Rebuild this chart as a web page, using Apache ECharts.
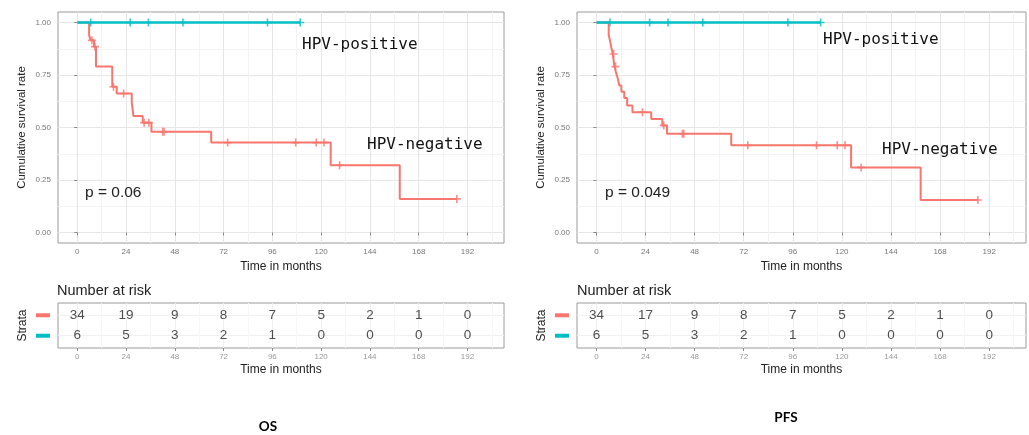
<!DOCTYPE html>
<html>
<head>
<meta charset="utf-8">
<script src="https://cdn.jsdelivr.net/npm/echarts@6/dist/echarts.min.js"></script>
<style>
  html, body { margin: 0; padding: 0; background: #fff; }
  #main { width: 1029px; height: 435px; }
</style>
</head>
<body>
<div id="main"></div>
<script>
// tick positions
const monthTicks = [0, 24, 48, 72, 96, 120, 144, 168, 192];
const monthMinor = [12, 36, 60, 84, 108, 132, 156, 180, 204];
const survTicks = [0, 0.25, 0.5, 0.75, 1];
const survMinor = [0.125, 0.375, 0.625, 0.875];

// OS curves (months, survival after step)
const osNegTime = [0, 5.8, 6.6, 8.2, 9.2, 17.2, 19.4, 26.8, 27.6, 32.2, 36.5, 65.9, 124.7, 158.7, 186.8];
const osNegSurv = [1, 0.94, 0.915, 0.885, 0.79, 0.694, 0.662, 0.62, 0.555, 0.523, 0.48, 0.428, 0.32, 0.16, 0.16];
const osNegCensor = [7.2, 8.7, 17.8, 22.8, 32.9, 35.2, 42, 42.7, 74, 107.5, 117.6, 121.4, 129.1, 186.8];
const osPosTime = [0, 109.7];
const osPosSurv = [1, 1];
const osPosCensor = [6.6, 26, 35, 52, 93.6, 109.7];

// PFS curves
const pfsNegTime = [0, 6.0, 6.7, 7.3, 8.0, 8.8, 9.5, 10.4, 11.2, 12.2, 13.6, 15.0, 17.6, 26.8, 32.2, 34.5, 65.9, 124.5, 158.5, 186.5];
const pfsNegSurv = [1, 0.94, 0.91, 0.88, 0.85, 0.79, 0.765, 0.735, 0.70, 0.67, 0.64, 0.605, 0.573, 0.541, 0.51, 0.47, 0.415, 0.31, 0.155, 0.155];
const pfsNegCensor = [8.4, 9.3, 22.5, 32.9, 42, 42.7, 74, 107.6, 117.7, 121.5, 129.4, 186.5];
const pfsPosTime = [0, 109.6];
const pfsPosSurv = [1, 1];
const pfsPosCensor = [6.6, 26, 35, 52, 93.6, 109.6];

// number at risk
const osRiskNeg = [34, 19, 9, 8, 7, 5, 2, 1, 0];
const osRiskPos = [6, 5, 3, 2, 1, 0, 0, 0, 0];
const pfsRiskNeg = [34, 17, 9, 8, 7, 5, 2, 1, 0];
const pfsRiskPos = [6, 5, 3, 2, 1, 0, 0, 0, 0];

const RED = '#F8766D';
const TEAL = '#00BFC4';
const PLUS = 'path://M4,0H6V4H10V6H6V10H4V6H0V4H4Z';
const SANS = '"Liberation Sans", Arial, sans-serif';

function stepAt(times, surv, t) {
  let v = surv[0];
  for (let i = 0; i < times.length; i++) {
    if (times[i] <= t) v = surv[i];
  }
  return v;
}

const grid = [], xAxis = [], yAxis = [], series = [];

function addPanel(left, width, neg, pos, riskNeg, riskPos) {
  const g = grid.length;
  const xa = xAxis.length;
  const ya = yAxis.length;
  grid.push({ left: left, top: 12, width: width, height: 231, show: true,
    borderColor: '#9a9a9a', borderWidth: 1, backgroundColor: '#fff', outerBoundsMode: 'none' });
  grid.push({ left: left, top: 303, width: width, height: 45, show: true,
    borderColor: '#9a9a9a', borderWidth: 1, backgroundColor: '#fff', outerBoundsMode: 'none' });

  const baseX = { type: 'value', min: -9.5, max: 210 };
  // KM x main
  xAxis.push(Object.assign({}, baseX, {
    gridIndex: g, position: 'bottom',
    name: 'Time in months', nameLocation: 'middle', nameGap: 16,
    nameTextStyle: { fontSize: 12, color: '#222', fontFamily: SANS },
    axisLine: { show: false },
    axisTick: { show: true, length: 3, customValues: monthTicks, lineStyle: { color: '#888' } },
    axisLabel: { customValues: monthTicks, fontSize: 8, color: '#777', margin: 5, fontFamily: SANS },
    splitLine: { show: true, lineStyle: { color: '#e6e6e6', width: 1 } }
  }));
  // KM x minor
  xAxis.push(Object.assign({}, baseX, {
    gridIndex: g, position: 'top',
    axisLine: { show: false }, axisLabel: { show: false },
    axisTick: { show: false, customValues: monthMinor },
    splitLine: { show: true, lineStyle: { color: '#f3f3f3', width: 1 } }
  }));
  // table x main
  xAxis.push(Object.assign({}, baseX, {
    gridIndex: g + 1, position: 'bottom',
    name: 'Time in months', nameLocation: 'middle', nameGap: 16,
    nameTextStyle: { fontSize: 12, color: '#222', fontFamily: SANS },
    axisLine: { show: false },
    axisTick: { show: true, length: 3, customValues: monthTicks, lineStyle: { color: '#888' } },
    axisLabel: { customValues: monthTicks, fontSize: 8, color: '#999', margin: 5, fontFamily: SANS },
    splitLine: { show: true, lineStyle: { color: '#f0f0f0', width: 1 } }
  }));
  // table x minor
  xAxis.push(Object.assign({}, baseX, {
    gridIndex: g + 1, position: 'top',
    axisLine: { show: false }, axisLabel: { show: false },
    axisTick: { show: false, customValues: monthMinor },
    splitLine: { show: true, lineStyle: { color: '#f6f6f6', width: 1 } }
  }));

  // KM y main
  yAxis.push({
    type: 'value', min: -0.05, max: 1.05, gridIndex: g,
    name: 'Cumulative survival rate', nameLocation: 'middle', nameGap: 30,
    nameTextStyle: { fontSize: 11.5, color: '#222', fontFamily: SANS },
    axisLine: { show: false },
    axisTick: { show: true, length: 3, customValues: survTicks, lineStyle: { color: '#888' } },
    axisLabel: { customValues: survTicks, fontSize: 8, color: '#777', margin: 7, fontFamily: SANS,
      formatter: v => Number(v).toFixed(2) },
    splitLine: { show: true, lineStyle: { color: '#e6e6e6', width: 1 } }
  });
  // KM y minor
  yAxis.push({
    type: 'value', min: -0.05, max: 1.05, gridIndex: g, position: 'right',
    axisLine: { show: false }, axisLabel: { show: false },
    axisTick: { show: false, customValues: survMinor },
    splitLine: { show: true, lineStyle: { color: '#f3f3f3', width: 1 } }
  });
  // table y
  yAxis.push({
    type: 'value', min: 0.4, max: 2.6, gridIndex: g + 1,
    name: 'Strata', nameLocation: 'middle', nameGap: 29,
    nameTextStyle: { fontSize: 12, color: '#222', fontFamily: SANS },
    axisLine: { show: false },
    axisTick: { show: false, customValues: [1, 2] },
    axisLabel: {
      customValues: [1, 2], margin: 8,
      formatter: v => (v === 2 ? '{neg| }' : '{pos| }'),
      rich: {
        neg: { backgroundColor: RED, width: 14, height: 4, fontSize: 1, lineHeight: 4 },
        pos: { backgroundColor: TEAL, width: 14, height: 4, fontSize: 1, lineHeight: 4 }
      }
    },
    splitLine: { show: true, lineStyle: { color: '#f0f0f0', width: 1 } }
  });

  const curves = [
    [neg.time, neg.surv, neg.censor, RED, 2],
    [pos.time, pos.surv, pos.censor, TEAL, 2.5]
  ];
  curves.forEach(([time, surv, censor, color, w]) => {
    series.push({
      type: 'line', xAxisIndex: xa, yAxisIndex: ya, step: 'end',
      showSymbol: false, silent: true, animation: false,
      lineStyle: { color: color, width: w },
      data: time.map((t, i) => [t, surv[i]])
    });
    series.push({
      type: 'scatter', xAxisIndex: xa, yAxisIndex: ya,
      symbol: PLUS, symbolSize: 8, silent: true, animation: false,
      itemStyle: { color: color },
      data: censor.map(t => [t, stepAt(time, surv, t)])
    });
  });

  const riskRows = [[riskNeg, 2], [riskPos, 1]];
  riskRows.forEach(([vals, row]) => {
    series.push({
      type: 'scatter', xAxisIndex: xa + 2, yAxisIndex: ya + 2,
      symbolSize: 1, silent: true, animation: false,
      itemStyle: { color: 'rgba(0,0,0,0)' },
      label: { show: true, position: 'inside', fontSize: 13.5, color: '#222', fontFamily: SANS,
        formatter: p => String(p.value[2]) },
      data: monthTicks.map((t, i) => [t, row, vals[i]])
    });
  });
}

addPanel(58, 446,
  { time: osNegTime, surv: osNegSurv, censor: osNegCensor },
  { time: osPosTime, surv: osPosSurv, censor: osPosCensor },
  osRiskNeg, osRiskPos);
addPanel(577, 449,
  { time: pfsNegTime, surv: pfsNegSurv, censor: pfsNegCensor },
  { time: pfsPosTime, surv: pfsPosSurv, censor: pfsPosCensor },
  pfsRiskNeg, pfsRiskPos);

const mono = { fontFamily: '"DejaVu Sans Mono", monospace', fontSize: 16, fill: '#111' };
function txt(x, y, text, style) {
  return { type: 'text', x: x, y: y, z: 100,
    style: Object.assign({ text: text, verticalAlign: 'middle', align: 'left' }, style) };
}

const graphic = [
  txt(302, 45, 'HPV-positive', mono),
  txt(367, 145, 'HPV-negative', mono),
  txt(823, 40, 'HPV-positive', mono),
  txt(882, 150, 'HPV-negative', mono),
  txt(85, 193, 'p = 0.06', { fontFamily: SANS, fontSize: 15.5, fill: '#222' }),
  txt(605, 193, 'p = 0.049', { fontFamily: SANS, fontSize: 15.5, fill: '#222' }),
  txt(57, 291, 'Number at risk', { fontFamily: SANS, fontSize: 14.5, fill: '#222' }),
  txt(577, 291, 'Number at risk', { fontFamily: SANS, fontSize: 14.5, fill: '#222' }),
  txt(268, 427, 'OS', { fontFamily: 'Lato, sans-serif', fontWeight: 'bold', fontSize: 13.5, fill: '#000', align: 'center' }),
  txt(786, 418, 'PFS', { fontFamily: 'Lato, sans-serif', fontWeight: 'bold', fontSize: 13.5, fill: '#000', align: 'center' })
];

const myChart = echarts.init(document.getElementById('main'), null, { renderer: 'canvas' });
myChart.setOption({
  animation: false,
  backgroundColor: '#fff',
  textStyle: { fontFamily: SANS },
  grid: grid,
  xAxis: xAxis,
  yAxis: yAxis,
  series: series,
  graphic: graphic
});
</script>
</body>
</html>
